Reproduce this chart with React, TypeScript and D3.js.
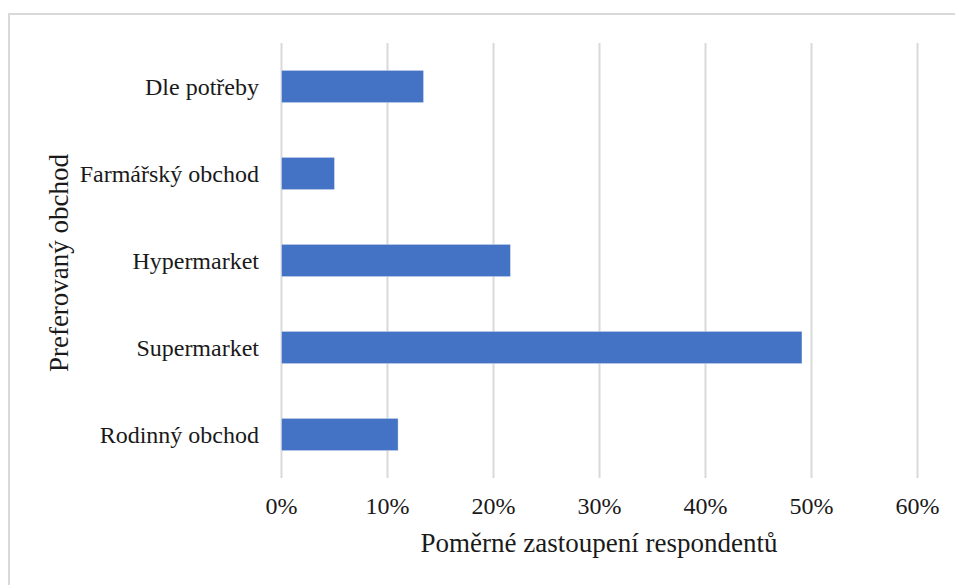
import React from "react";
import * as d3 from "d3";

const categories = ["Dle potřeby", "Farmářský obchod", "Hypermarket", "Supermarket", "Rodinný obchod"];
const values = [13.4, 5.0, 21.6, 49.1, 11.0];
const ticks = [0, 10, 20, 30, 40, 50, 60];
const xTitle = "Poměrné zastoupení respondentů";
const yTitle = "Preferovaný obchod";

export default function App() {
  const W = 955, H = 585;
  const left = 281.5, right = 917.5, top = 43, bottom = 478;
  const x = d3.scaleLinear().domain([0, 60]).range([left, right]);
  const y = d3.scaleBand<string>().domain(categories).range([top, bottom]).paddingInner(0.63).paddingOuter(0.315);
  const font = '"Liberation Serif", Tinos, "Times New Roman", "DejaVu Serif", serif';
  return (
    <svg width={W} height={H} style={{ position: "absolute", left: 0, top: 0, background: "#fff", fontFamily: font }}>
      <rect x={9} y={14} width={980} height={620} fill="#fff" stroke="#d9d9d9" strokeWidth={2} />
      {ticks.map((t) => (
        <line key={t} x1={x(t)} x2={x(t)} y1={top} y2={bottom} stroke="#d9d9d9" strokeWidth={2} />
      ))}
      {categories.map((c, i) => (
        <rect key={c} x={x(0)} y={y(c)!} width={x(values[i]) - x(0)} height={y.bandwidth()} fill="#4472c4" stroke="#ffffff" strokeOpacity={0.35} strokeWidth={1} />
      ))}
      {categories.map((c) => (
        <text key={c} x={259} y={y(c)! + y.bandwidth() / 2} dy="0.35em" textAnchor="end" fontSize={24} fill="#1a1a1a" style={{ fontFamily: font }}>
          {c}
        </text>
      ))}
      {ticks.map((t) => (
        <text key={t} x={x(t)} y={514} textAnchor="middle" fontSize={24} fill="#1a1a1a" style={{ fontFamily: font }}>
          {t}%
        </text>
      ))}
      <text x={599} y={552} textAnchor="middle" fontSize={27} fill="#1a1a1a" style={{ fontFamily: font }}>{xTitle}</text>
      <text transform={`translate(68,263) rotate(-90)`} textAnchor="middle" fontSize={27} fill="#1a1a1a" style={{ fontFamily: font }}>{yTitle}</text>
    </svg>
  );
}
